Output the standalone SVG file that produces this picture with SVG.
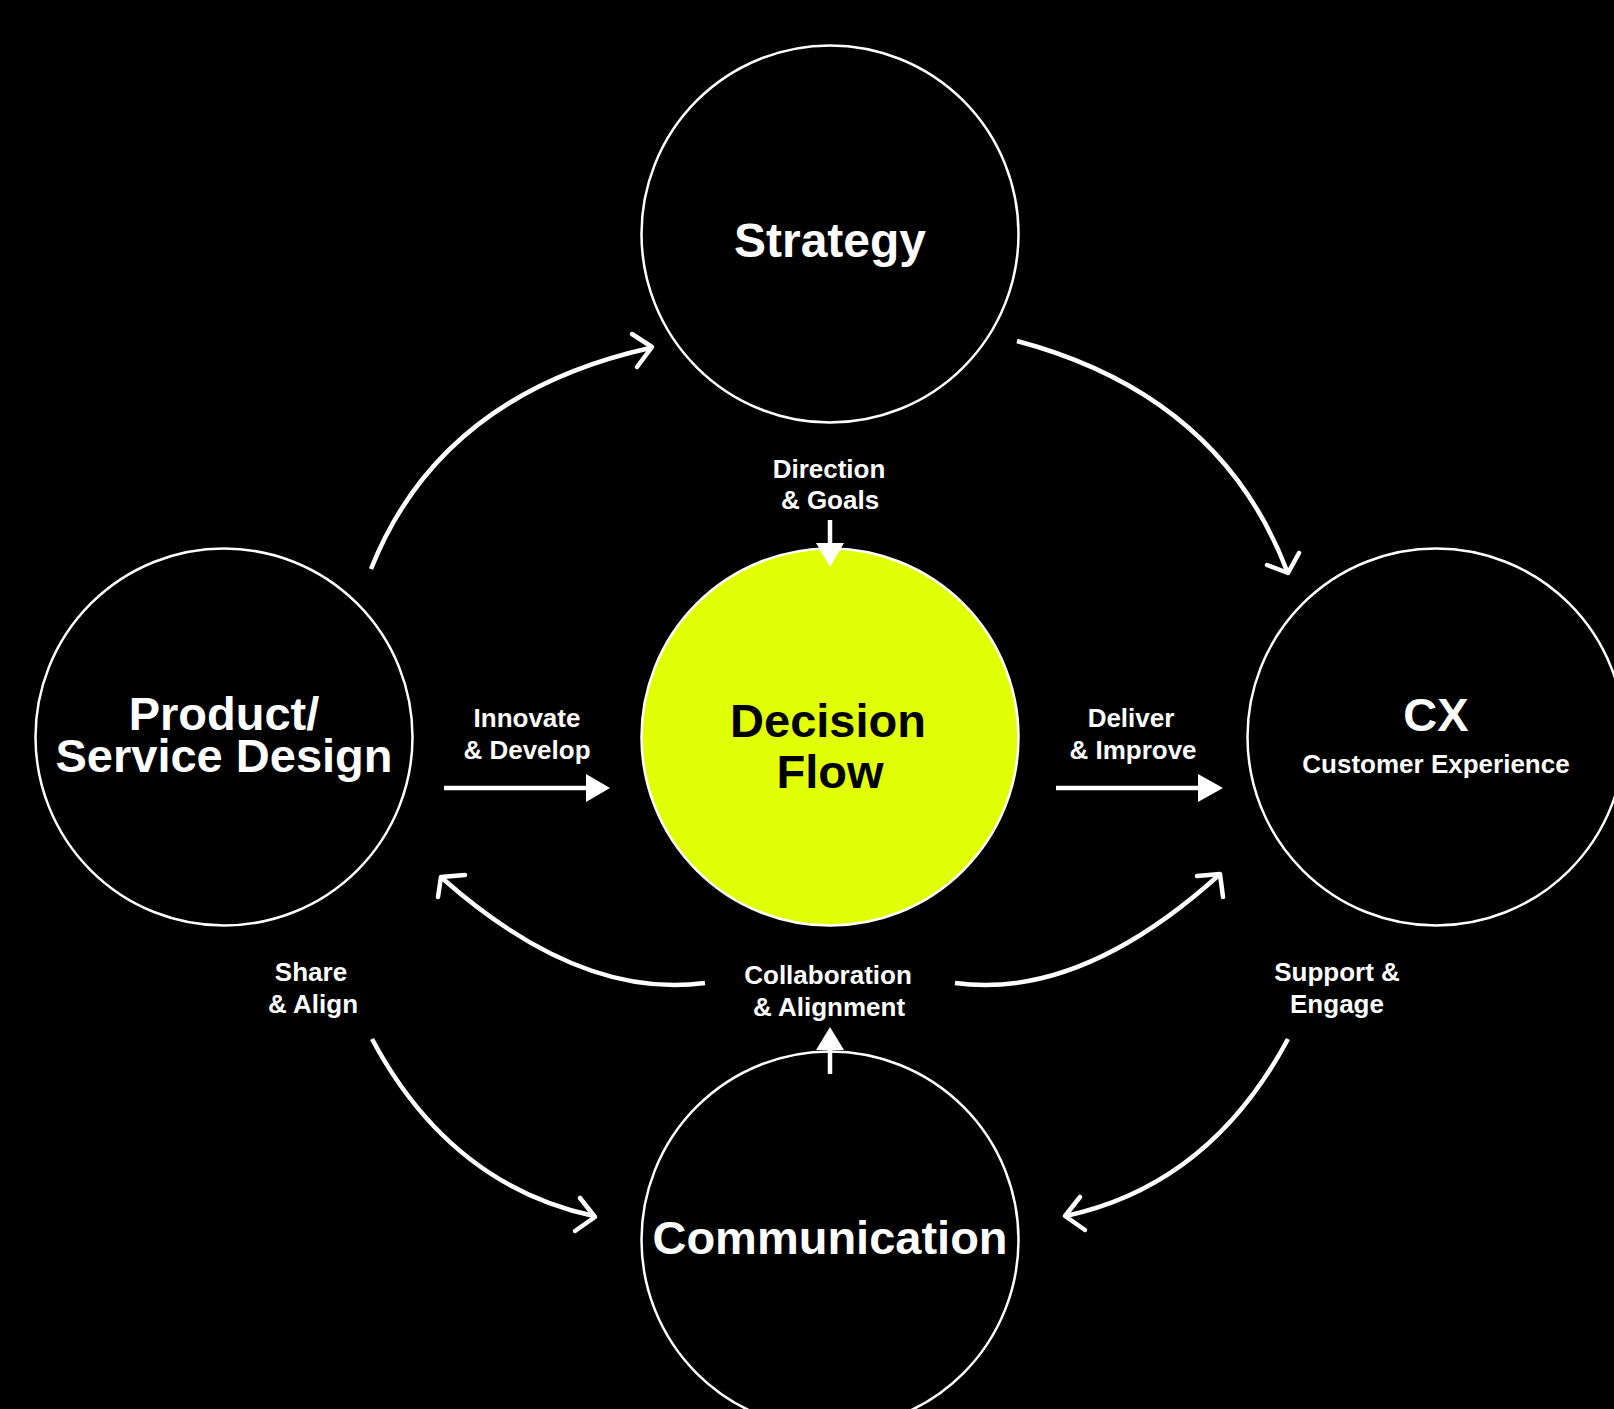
<svg xmlns="http://www.w3.org/2000/svg" width="1614" height="1409" viewBox="0 0 1614 1409">
  <style>
    .ring { fill: #000; stroke: #fff; stroke-width: 2.5; }
    .core { fill: #e1ff06; stroke: #fff; stroke-width: 2.5; }
    .title { font-family: "Liberation Sans", Arial, sans-serif; font-weight: bold; font-size: 47px; fill: #fff; text-anchor: middle; }
    .title.dark { fill: #000; }
    .label { font-family: "Liberation Sans", Arial, sans-serif; font-weight: bold; font-size: 26px; fill: #fff; text-anchor: middle; }
    .curve { fill: none; stroke: #fff; stroke-width: 4.5; stroke-linecap: butt; }
    .head { fill: none; stroke: #fff; stroke-width: 4.5; stroke-linecap: round; stroke-linejoin: round; }
    .shaft { stroke: #fff; stroke-width: 4.5; }
    .tri { fill: #fff; }
  </style>
  <rect width="1614" height="1409" fill="#000"/>

  <g id="strategy">
    <circle class="ring" cx="830" cy="234" r="188.5"/>
    <text class="title" x="830" y="257" style="font-size:48px">Strategy</text>
  </g>

  <g id="product-service-design">
    <circle class="ring" cx="224" cy="737" r="188.5"/>
    <text class="title"><tspan x="224" y="730">Product/</tspan><tspan x="224" y="772">Service Design</tspan></text>
  </g>

  <g id="decision-flow">
    <circle class="core" cx="830" cy="737" r="188.5"/>
    <text class="title dark"><tspan x="828" y="737">Decision</tspan><tspan x="830" y="788">Flow</tspan></text>
  </g>

  <g id="cx">
    <circle class="ring" cx="1436" cy="737" r="188.5"/>
    <text class="title" x="1436" y="731">CX</text>
    <text class="label" x="1436" y="773">Customer Experience</text>
  </g>

  <g id="communication">
    <circle class="ring" cx="830" cy="1240" r="188.5"/>
    <text class="title" x="830" y="1254">Communication</text>
  </g>

  <g id="connectors">
    <!-- Product -> Strategy -->
    <path class="curve" d="M371,569 Q440,395 650,348"/>
    <polyline class="head" points="632,334 652,347 637,367"/>
    <!-- Strategy -> CX -->
    <path class="curve" d="M1017,341 Q1220,395 1287,571"/>
    <polyline class="head" points="1267,565 1288,573 1299,553"/>
    <!-- Collaboration -> Product -->
    <path class="curve" d="M705,983 Q580,1000 442,878"/>
    <polyline class="head" points="465,875 441,877 438,897"/>
    <!-- Collaboration -> CX -->
    <path class="curve" d="M955,983 Q1080,1000 1219,875"/>
    <polyline class="head" points="1197,876 1220,874 1223,897"/>
    <!-- Product -> Communication -->
    <path class="curve" d="M372,1039 Q450,1185 594,1216"/>
    <polyline class="head" points="580,1198 595,1217 575,1231"/>
    <!-- CX -> Communication -->
    <path class="curve" d="M1288,1039 Q1210,1185 1066,1216"/>
    <polyline class="head" points="1080,1197 1065,1216 1085,1230"/>

    <!-- Strategy -> Decision Flow -->
    <line class="shaft" x1="830" y1="520" x2="830" y2="545"/>
    <polygon class="tri" points="816,543 844,543 830,567"/>
    <!-- Communication -> Collaboration -->
    <line class="shaft" x1="830" y1="1074" x2="830" y2="1048"/>
    <polygon class="tri" points="816,1050 844,1050 830,1027"/>
    <!-- Product -> Decision Flow -->
    <line class="shaft" x1="444" y1="788" x2="588" y2="788"/>
    <polygon class="tri" points="586,774 586,802 610,788"/>
    <!-- Decision Flow -> CX -->
    <line class="shaft" x1="1056" y1="788" x2="1200" y2="788"/>
    <polygon class="tri" points="1198,774 1198,802 1223,788"/>

    <text class="label" x="829" y="478">Direction</text>
    <text class="label" x="830" y="509">&amp; Goals</text>
    <text class="label" x="527" y="727">Innovate</text>
    <text class="label" x="527" y="759">&amp; Develop</text>
    <text class="label" x="1131" y="727">Deliver</text>
    <text class="label" x="1133" y="759">&amp; Improve</text>
    <text class="label" x="828" y="984">Collaboration</text>
    <text class="label" x="829" y="1016">&amp; Alignment</text>
    <text class="label" x="311" y="981">Share</text>
    <text class="label" x="313" y="1013">&amp; Align</text>
    <text class="label" x="1337" y="981">Support &amp;</text>
    <text class="label" x="1337" y="1013">Engage</text>
  </g>
</svg>
